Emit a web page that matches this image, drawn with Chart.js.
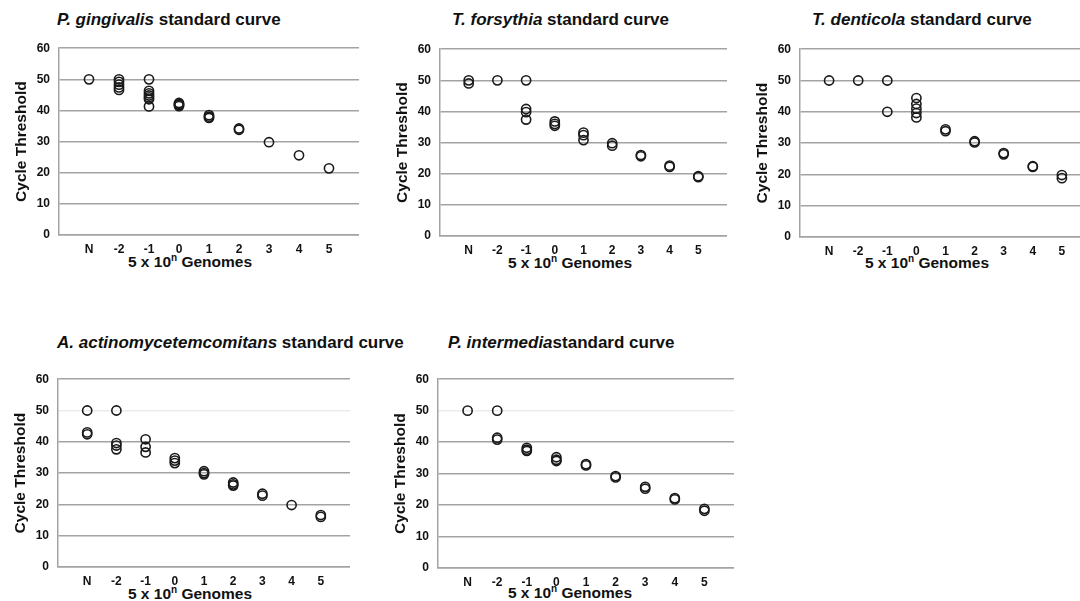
<!DOCTYPE html>
<html lang="en">
<head>
    <meta charset="UTF-8">
    <title>Standard curves</title>
    <style>
        html, body {
            margin: 0;
            padding: 0;
            background: #fff;
            width: 1080px;
            height: 601px;
            overflow: hidden;
            font-family: "Liberation Sans", Arial, sans-serif;
        }
        .title {
            position: absolute;
            font-size: 17px;
            font-weight: bold;
            color: #111;
            white-space: nowrap;
            line-height: 20px;
        }
        .xtitle {
            position: absolute;
            font-size: 15.5px;
            font-weight: bold;
            color: #111;
            white-space: nowrap;
            line-height: 18px;
            transform: translateX(-50%);
        }
        .xtitle sup {
            font-size: 10px;
            line-height: 0;
            vertical-align: 6px;
        }
        canvas {
            position: absolute;
        }
    </style>
    <script src="https://cdn.jsdelivr.net/npm/chart.js"></script>
</head>
<body>
    <div class="title" style="left:57px; top:10px;"><i>P. gingivalis</i> standard curve</div>
    <div class="title" style="left:452px; top:10px;"><i>T. forsythia</i> standard curve</div>
    <div class="title" style="left:812px; top:10px;"><i>T. denticola</i> standard curve</div>
    <div class="title" style="left:57px; top:333px;"><i>A. actinomycetemcomitans</i> standard curve</div>
    <div class="title" style="left:448px; top:333px;"><i>P. intermedia</i>standard curve</div>

    <div class="xtitle" style="left:190px; top:253px;">5 x 10<sup>n</sup> Genomes</div>
    <div class="xtitle" style="left:570px; top:254px;">5 x 10<sup>n</sup> Genomes</div>
    <div class="xtitle" style="left:927px; top:254px;">5 x 10<sup>n</sup> Genomes</div>
    <div class="xtitle" style="left:190px; top:585px;">5 x 10<sup>n</sup> Genomes</div>
    <div class="xtitle" style="left:570px; top:584px;">5 x 10<sup>n</sup> Genomes</div>

    <canvas id="pg" width="347" height="239" style="left:12px; top:32px;"></canvas>
    <canvas id="tf" width="334" height="239" style="left:393px; top:33px;"></canvas>
    <canvas id="td" width="338" height="240" style="left:753px; top:33px;"></canvas>
    <canvas id="aa" width="339" height="240" style="left:11px; top:363px;"></canvas>
    <canvas id="pi" width="343" height="241" style="left:391px; top:363px;"></canvas>

    <script>
        // x categories (log10 of genome count / 5), N = no template
        const categories = ['N', '-2', '-1', '0', '1', '2', '3', '4', '5'];
        const yTicks = [0, 10, 20, 30, 40, 50, 60];

        // Ct values per category
        const pgingivalis = [
            [50],
            [50, 49.2, 48.3, 47.4, 46.6],
            [50, 46.3, 45.5, 44.8, 44.2, 43.6, 41.3],
            [42.4, 42, 41.8, 41.4],
            [38.5, 38, 37.6],
            [34.2, 33.8],
            [29.8],
            [25.6],
            [21.4]
        ];
        const tforsythia = [
            [50, 49],
            [50],
            [50, 40.8, 39.8, 37.4],
            [36.8, 36, 35.4],
            [33.2, 32.4, 30.8],
            [29.8, 29],
            [26, 25.6],
            [22.6, 22.2],
            [19.2, 18.9]
        ];
        const tdenticola = [
            [50],
            [50],
            [50, 40],
            [44.4, 42.5, 41, 39.6, 38.2],
            [34.4, 33.8],
            [30.6, 30.2],
            [26.8, 26.4],
            [22.6, 22.4],
            [19.8, 18.8]
        ];
        const aactino = [
            [50, 43, 42.4],
            [50, 39.6, 38.8, 37.6],
            [40.8, 38.4, 36.6],
            [34.8, 34, 33.2],
            [30.6, 30, 29.6],
            [27, 26.4, 26],
            [23.4, 22.8],
            [19.8],
            [16.6, 16]
        ];
        const pintermedia = [
            [50],
            [50, 41.4, 40.8],
            [38.2, 37.6, 37.2],
            [35.2, 34.4, 34],
            [33, 32.6],
            [29.2, 28.8],
            [25.8, 25.2],
            [22.2, 21.8],
            [18.8, 18.2]
        ];

        const fontFamily = '"Liberation Sans", Arial, sans-serif';
        const gridColor = '#a3a3a3';

        function toPoints(groups) {
            const pts = [];
            groups.forEach((vals, i) => {
                vals.forEach(v => pts.push({ x: i + 1, y: v }));
            });
            return pts;
        }

        function makeChart(id, groups, fadedFifty) {
            const ctx = document.getElementById(id).getContext('2d');
            new Chart(ctx, {
                type: 'scatter',
                data: {
                    datasets: [{
                        data: toPoints(groups),
                        pointRadius: 4.6,
                        pointHoverRadius: 4.6,
                        borderWidth: 1.6,
                        borderColor: '#1a1a1a',
                        backgroundColor: 'rgba(255,255,255,0)'
                    }]
                },
                options: {
                    responsive: false,
                    animation: false,
                    layout: { autoPadding: false, padding: { top: 10, left: 0, right: 0, bottom: 0 } },
                    plugins: {
                        legend: { display: false },
                        tooltip: { enabled: false }
                    },
                    scales: {
                        x: {
                            type: 'linear',
                            min: 0,
                            max: categories.length + 1,
                            afterBuildTicks: (scale) => {
                                scale.ticks = categories.map((c, i) => ({ value: i + 1 }));
                            },
                            afterFit: (scale) => {
                                scale.height = 36;
                                scale.paddingLeft = 0;
                                scale.paddingRight = 0;
                            },
                            grid: { display: false, drawTicks: false },
                            border: { display: true, color: gridColor, width: 1.5 },
                            ticks: {
                                padding: 7,
                                color: '#111',
                                font: { family: fontFamily, size: 12, weight: 'bold' },
                                callback: (v) => categories[v - 1]
                            }
                        },
                        y: {
                            min: 0,
                            max: 60,
                            afterBuildTicks: (scale) => {
                                scale.ticks = yTicks.map(v => ({ value: v }));
                            },
                            afterFit: (scale) => { scale.width = 47; },
                            grid: {
                                drawTicks: false,
                                lineWidth: 1.5,
                                color: (c) => (fadedFifty && c.tick && c.tick.value === 50) ? '#ececec' : gridColor
                            },
                            border: { display: true, color: gridColor, width: 1.5 },
                            ticks: {
                                padding: 9,
                                color: '#111',
                                font: { family: fontFamily, size: 12, weight: 'bold' }
                            },
                            title: {
                                display: true,
                                text: 'Cycle Threshold',
                                color: '#111',
                                padding: { top: 0, bottom: 0 },
                                font: { family: fontFamily, size: 15.5, weight: 'bold' }
                            }
                        }
                    }
                }
            });
        }

        makeChart('pg', pgingivalis, false);
        makeChart('tf', tforsythia, false);
        makeChart('td', tdenticola, false);
        makeChart('aa', aactino, true);
        makeChart('pi', pintermedia, true);
    </script>
</body>
</html>
